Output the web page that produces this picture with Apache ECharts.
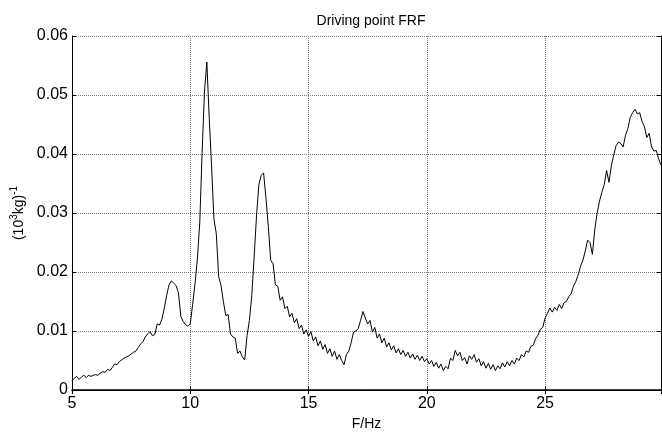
<!DOCTYPE html>
<html>
<head>
<meta charset="utf-8">
<script src="https://cdn.jsdelivr.net/npm/echarts@6/dist/echarts.min.js"></script>
<style>
    html, body { margin: 0; padding: 0; background: #fff; }
    #frf-chart { width: 662px; height: 434px; }
</style>
</head>
<body>
<div id="frf-chart"></div>
<script>
    // sampling grid of the measured FRF
    const fStart = 5.0;
    const fStep = 0.1;

    // amplitude, (10^3 kg)^-1
    const frf5to10 = [
        0.0016, 0.0020, 0.0023, 0.0018, 0.0022, 0.0025, 0.0021, 0.0025, 0.0023, 0.0025,
        0.0026, 0.0025, 0.0029, 0.0031, 0.0030, 0.0035, 0.0033, 0.0038, 0.0044, 0.0043,
        0.0048, 0.0051, 0.0054, 0.0056, 0.0058, 0.0061, 0.0064, 0.0066, 0.0072, 0.0078,
        0.0082, 0.0090, 0.0095, 0.0099, 0.0092, 0.0094, 0.0112, 0.0110, 0.0120, 0.0138,
        0.0160, 0.0178, 0.0185, 0.0181, 0.0177, 0.0165, 0.0125, 0.0116, 0.0111, 0.0108
    ];
    const frf10to15 = [
        0.0112, 0.0145, 0.0180, 0.0222, 0.0283, 0.0402, 0.0505, 0.0556, 0.0462, 0.0380,
        0.0290, 0.0265, 0.0192, 0.0177, 0.0150, 0.0126, 0.0128, 0.0095, 0.0090, 0.0088,
        0.0062, 0.0066, 0.0056, 0.0051, 0.0092, 0.0118, 0.0160, 0.0225, 0.0295, 0.0348,
        0.0364, 0.0368, 0.0325, 0.0277, 0.0220, 0.0214, 0.0178, 0.0176, 0.0152, 0.0158,
        0.0138, 0.0142, 0.0124, 0.0130, 0.0114, 0.0121, 0.0104, 0.0110, 0.0095, 0.0102
    ];
    const frf15to20 = [
        0.0091, 0.0099, 0.0083, 0.0090, 0.0075, 0.0083, 0.0069, 0.0077, 0.0062, 0.0070,
        0.0057, 0.0066, 0.0052, 0.0060, 0.0050, 0.0043, 0.0060, 0.0066, 0.0080, 0.0098,
        0.0100, 0.0104, 0.0118, 0.0133, 0.0122, 0.0112, 0.0118, 0.0098, 0.0106, 0.0088,
        0.0095, 0.0080, 0.0088, 0.0073, 0.0080, 0.0068, 0.0075, 0.0063, 0.0070, 0.0060,
        0.0067, 0.0057, 0.0064, 0.0054, 0.0061, 0.0052, 0.0059, 0.0050, 0.0057, 0.0048
    ];
    const frf20to25 = [
        0.0053, 0.0044, 0.0050, 0.0040, 0.0047, 0.0037, 0.0044, 0.0033, 0.0040, 0.0036,
        0.0054, 0.0050, 0.0067, 0.0058, 0.0064, 0.0050, 0.0055, 0.0044, 0.0058, 0.0052,
        0.0060, 0.0047, 0.0053, 0.0041, 0.0048, 0.0037, 0.0045, 0.0035, 0.0043, 0.0033,
        0.0041, 0.0036, 0.0046, 0.0039, 0.0048, 0.0041, 0.0050, 0.0044, 0.0054, 0.0050,
        0.0060, 0.0056, 0.0066, 0.0064, 0.0074, 0.0076, 0.0087, 0.0093, 0.0103, 0.0106
    ];
    const frf25to30 = [
        0.0122, 0.0130, 0.0139, 0.0132, 0.0140, 0.0135, 0.0145, 0.0138, 0.0148, 0.0150,
        0.0158, 0.0163, 0.0176, 0.0184, 0.0195, 0.0210, 0.0220, 0.0236, 0.0254, 0.0250,
        0.0230, 0.0272, 0.0300, 0.0320, 0.0335, 0.0348, 0.0372, 0.0352, 0.0380, 0.0398,
        0.0414, 0.0420, 0.0418, 0.0412, 0.0432, 0.0443, 0.0462, 0.0470, 0.0476, 0.0468,
        0.0470, 0.0455, 0.0446, 0.0428, 0.0435, 0.0412, 0.0405, 0.0406, 0.0392, 0.0381
    ];

    const xMin = 5, xMax = 29.9, xStep = 5;
    const yMin = 0, yMax = 0.06, yStep = 0.01;

    const frf = [].concat(frf5to10, frf10to15, frf15to20, frf20to25, frf25to30);
    const points = frf.map((v, i) => [Number((fStart + i * fStep).toFixed(2)), v]);

    const font = 'Liberation Sans, Arial, Helvetica, sans-serif';
    const gridLine = { show: true, lineStyle: { color: '#7a7a7a', type: 'dotted', width: 1 } };
    const frameLine = { show: true, lineStyle: { color: '#000', width: 1 } };
    const innerTick = { show: true, inside: true, length: 4, lineStyle: { color: '#000' } };

    const chart = echarts.init(document.getElementById('frf-chart'), null, { renderer: 'canvas' });

    const option = {
        animation: false,
        backgroundColor: '#fff',
        title: {
            text: 'Driving point FRF',
            left: 366,
            top: 9,
            textAlign: 'center',
            textStyle: { fontFamily: font, fontSize: 14, fontWeight: 'normal', color: '#000' }
        },
        grid: { left: 72, right: 1, top: 36, bottom: 44, outerBoundsMode: 'none', containLabel: false },
        xAxis: [
            {
                type: 'value',
                min: xMin,
                max: xMax,
                interval: xStep,
                name: 'F/Hz',
                nameLocation: 'middle',
                nameGap: 26,
                nameTextStyle: { fontFamily: font, fontSize: 14, color: '#000' },
                axisLine: frameLine,
                axisTick: innerTick,
                axisLabel: { fontFamily: font, fontSize: 16, color: '#000', margin: 6, showMaxLabel: false },
                splitLine: gridLine
            },
            {
                type: 'value',
                position: 'top',
                min: xMin,
                max: xMax,
                interval: xStep,
                axisLine: { show: true, lineStyle: { color: '#000', width: 1.5 } },
                axisTick: innerTick,
                axisLabel: { show: false },
                splitLine: { show: false }
            }
        ],
        yAxis: [
            {
                type: 'value',
                min: yMin,
                max: yMax,
                interval: yStep,
                name: '{t|(10}{s|3}{t|kg)}{s|-1}',
                nameLocation: 'middle',
                nameRotate: 90,
                nameGap: 44,
                nameTextStyle: {
                    rich: {
                        t: { fontFamily: font, fontSize: 14, color: '#000', lineHeight: 17, verticalAlign: 'bottom' },
                        s: { fontFamily: font, fontSize: 10, color: '#000', lineHeight: 10, verticalAlign: 'top' }
                    }
                },
                axisLine: frameLine,
                axisTick: innerTick,
                axisLabel: { fontFamily: font, fontSize: 16, color: '#000', margin: 4 },
                splitLine: gridLine
            },
            {
                type: 'value',
                position: 'right',
                min: yMin,
                max: yMax,
                interval: yStep,
                axisLine: frameLine,
                axisTick: innerTick,
                axisLabel: { show: false },
                splitLine: { show: false }
            }
        ],
        series: [
            {
                type: 'line',
                data: points,
                showSymbol: false,
                symbol: 'none',
                lineStyle: { color: '#000', width: 1 },
                xAxisIndex: 0,
                yAxisIndex: 0
            }
        ]
    };

    chart.setOption(option);
</script>
</body>
</html>
